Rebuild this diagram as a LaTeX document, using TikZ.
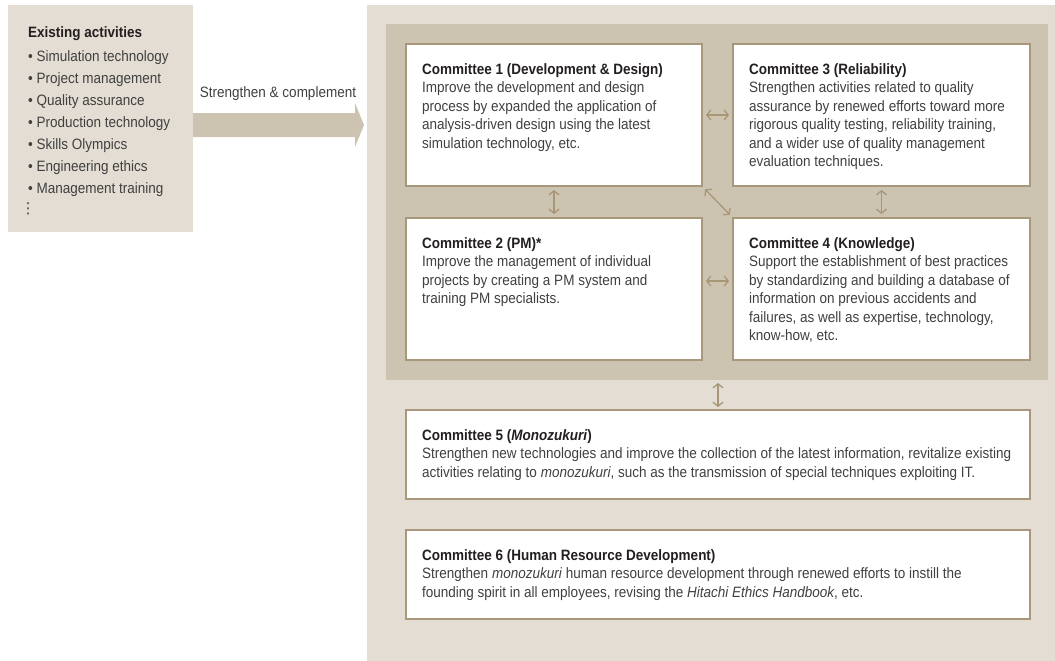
\documentclass[tikz,border=0pt]{standalone}
\usepackage{fontspec}
\setmainfont[FakeStretch=0.9]{Liberation Sans}
\newfontfamily\dejavu{DejaVu Sans}
\usetikzlibrary{arrows.meta}
\definecolor{lightbg}{HTML}{E3DDD3}
\definecolor{darkbg}{HTML}{CDC3B1}
\definecolor{borderc}{HTML}{A8977A}
\definecolor{arrowc}{HTML}{A99677}
\definecolor{bodyc}{HTML}{404040}
\definecolor{headc}{HTML}{231F20}
\tikzset{
  bgbox/.style={rectangle, inner sep=0pt, outer sep=0pt},
  cbox/.style={rectangle, inner sep=0pt, outer sep=0pt, draw=borderc, line width=2pt, fill=white},
  ctext/.style={anchor=base west, inner sep=0pt, align=left, font=\fontsize{15}{18.5}\selectfont, text=bodyc},
  link/.style={draw=arrowc, line width=1.3pt, {Straight Barb[length=4pt,width=10pt]}-{Straight Barb[length=4pt,width=10pt]}, shorten <=4pt, shorten >=4pt},
}
\newcommand{\hd}[1]{{\bfseries\color{headc}#1}}
\begin{document}
\begin{tikzpicture}[x=1pt,y=-1pt]
\useasboundingbox (0,0) rectangle (1055,661);
% background boxes
\node[bgbox, fill=lightbg, minimum width=185pt, minimum height=227pt] (left) at (100.5,118.5) {};
\node[bgbox, fill=lightbg, minimum width=688pt, minimum height=656pt] (outer) at (711,333) {};
\node[bgbox, fill=darkbg, minimum width=662pt, minimum height=356pt] (inner) at (717,202) {};
% big arrow
\fill[darkbg] (left.east |- 0,113) -- (355,113) -- (355,103) -- ([xshift=-3pt]outer.west |- 0,125) -- (355,147) -- (355,137) -- (left.east |- 0,137) -- cycle;
\node[anchor=base, inner sep=0pt, font=\fontsize{15}{18}\selectfont, text=bodyc] (lbl) at (278,98) {Strengthen \& complement};
% left text (anchored at the baseline of its last line)
\node[anchor=base west, inner sep=0pt, align=left, font=\fontsize{15}{22}\selectfont, text=bodyc] (lefttext) at (28,193)
{\hd{Existing activities}\\[1.5pt]
\textbullet\ Simulation technology\\
\textbullet\ Project management\\
\textbullet\ Quality assurance\\
\textbullet\ Production technology\\
\textbullet\ Skills Olympics\\
\textbullet\ Engineering ethics\\
\textbullet\ Management training};
\node[anchor=north west, inner sep=0pt, font=\dejavu\fontsize{15}{15}\selectfont, text=bodyc] (ldots) at (20.5,203) {⋮};
% committee boxes
\node[cbox, minimum width=296pt, minimum height=142pt] (c1) at (554,115) {};
\node[cbox, minimum width=297pt, minimum height=142pt] (c3) at (881.5,115) {};
\node[cbox, minimum width=296pt, minimum height=142pt] (c2) at (554,289) {};
\node[cbox, minimum width=297pt, minimum height=142pt] (c4) at (881.5,289) {};
\node[cbox, minimum width=624pt, minimum height=89pt] (c5) at (718,454.5) {};
\node[cbox, minimum width=624pt, minimum height=89pt] (c6) at (718,574.5) {};
% texts (anchored at the baseline of their last line)
\node[ctext] (c1t) at (422,148) {\hd{Committee 1 (Development \& Design)}\\
Improve the development and design\\
process by expanded the application of\\
analysis-driven design using the latest\\
simulation technology, etc.};
\node[ctext] (c3t) at (749,166.5) {\hd{Committee 3 (Reliability)}\\
Strengthen activities related to quality\\
assurance by renewed efforts toward more\\
rigorous quality testing, reliability training,\\
and a wider use of quality management\\
evaluation techniques.};
\node[ctext] (c2t) at (422,303.5) {\hd{Committee 2 (PM)*}\\
Improve the management of individual\\
projects by creating a PM system and\\
training PM specialists.};
\node[ctext] (c4t) at (749,340.5) {\hd{Committee 4 (Knowledge)}\\
Support the establishment of best practices\\
by standardizing and building a database of\\
information on previous accidents and\\
failures, as well as expertise, technology,\\
know-how, etc.};
\node[ctext] (c5t) at (422,477) {\hd{Committee 5 (\textit{Monozukuri})}\\
Strengthen new technologies and improve the collection of the latest information, revitalize existing\\
activities relating to \textit{monozukuri}, such as the transmission of special techniques exploiting IT.};
\node[ctext] (c6t) at (422,597) {\hd{Committee 6 (Human Resource Development)}\\
Strengthen \textit{monozukuri} human resource development through renewed efforts to instill the\\
founding spirit in all employees, revising the \textit{Hitachi Ethics Handbook}, etc.};
% connectors
\draw[link] (c1.east) -- (c3.west);
\draw[link] (c1.south) -- (c2.north);
\draw[link] (c3.south) -- (c4.north);
\draw[link, shorten <=4.5pt, shorten >=4.5pt] (c1.south east) -- (c4.north west);
\draw[link] ([yshift=8pt]c2.east) -- ([yshift=8pt]c4.west);
\draw[link, shorten <=3pt, shorten >=3pt] (inner.south -| c5.north) -- (c5.north);
\end{tikzpicture}
\end{document}
